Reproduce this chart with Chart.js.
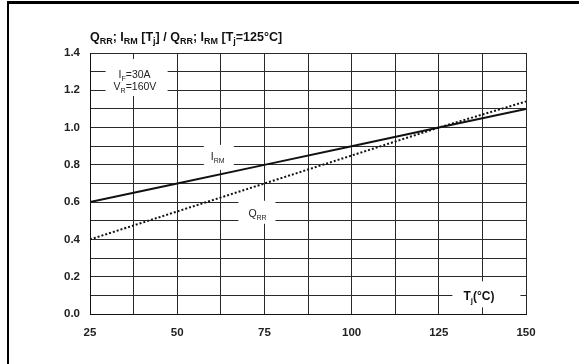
<!DOCTYPE html>
<html>
<head>
<meta charset="utf-8">
<script src="https://cdn.jsdelivr.net/npm/chart.js@4.4.0/dist/chart.umd.min.js"></script>
<style>
    html, body { margin: 0; padding: 0; background: #fff; }
    #wrap { position: relative; width: 579px; height: 364px; }
    #frame { position: absolute; left: 7px; top: 1px; right: 0; bottom: 0;
             border-left: 2px solid #000; border-top: 3px solid #000; pointer-events: none; }
</style>
</head>
<body>
<div id="wrap">
    <canvas id="chart" width="579" height="364"></canvas>
    <div id="frame"></div>
</div>
<script>
const tempC = [25, 50, 75, 100, 125, 150];
const irmRatio = [0.6, 0.7, 0.8, 0.9, 1.0, 1.1];
const qrrRatio = [0.4, 0.55, 0.7, 0.85, 1.0, 1.14];

const FONT = '"Liberation Sans", Arial, sans-serif';
const GRID = '#2a2a2a';

function points(ys) {
    return tempC.map((t, i) => ({ x: t, y: ys[i] }));
}

// draws text with subscript parts: [[text, isSub], ...]
function drawRich(ctx, parts, x, y, size, weight, color) {
    ctx.fillStyle = color;
    ctx.textBaseline = 'alphabetic';
    ctx.textAlign = 'left';
    parts.forEach(([txt, sub]) => {
        const s = sub ? Math.round(size * 0.7) : size;
        ctx.font = `${weight} ${s}px ${FONT}`;
        ctx.fillText(txt, x, sub ? y + 3 : y);
        x += ctx.measureText(txt).width;
    });
}

function clearBox(ctx, x0, y0, x1, y1) {
    ctx.fillStyle = '#fff';
    ctx.fillRect(x0, y0, x1 - x0, y1 - y0);
}

const labelsPlugin = {
    id: 'labels',
    afterDatasetsDraw(chart) {
        const ctx = chart.ctx;
        const xs = chart.scales.x, ys = chart.scales.y;
        ctx.save();

        // title
        drawRich(ctx, [['Q', 0], ['RR', 1], ['; I', 0], ['RM', 1], [' [T', 0], ['j', 1],
            ['] / Q', 0], ['RR', 1], ['; I', 0], ['RM', 1], [' [T', 0], ['j', 1], ['=125°C]', 0]],
            90, 41, 12.5, 'bold', '#111');

        // conditions box
        let px = xs.getPixelForValue(37.5), py = ys.getPixelForValue(1.25);
        clearBox(ctx, px - 28, py - 22, px + 34, py + 15);
        drawRich(ctx, [['I', 0], ['F', 1], ['=30A', 0]], px - 15, py - 3, 10.5, 'normal', '#222');
        drawRich(ctx, [['V', 0], ['R', 1], ['=160V', 0]], px - 20, py + 9, 10.5, 'normal', '#222');

        // I_RM label
        px = xs.getPixelForValue(62.5); py = ys.getPixelForValue(0.8);
        clearBox(ctx, px - 17, py - 20, px + 13, py + 5);
        drawRich(ctx, [['I', 0], ['RM', 1]], px - 10, py - 5, 10.5, 'normal', '#222');

        // Q_RR label
        px = xs.getPixelForValue(75); py = ys.getPixelForValue(0.5);
        clearBox(ctx, px - 26, py - 20, px + 11, py + 3);
        drawRich(ctx, [['Q', 0], ['RR', 1]], px - 16, py - 4, 10.5, 'normal', '#222');

        // axis title
        px = xs.getPixelForValue(137.5); py = ys.getPixelForValue(0.1);
        clearBox(ctx, px - 30, py - 14, px + 38, py + 12);
        drawRich(ctx, [['T', 0], ['j', 1], ['(°C)', 0]], px - 19, py + 5, 12, 'bold', '#111');

        ctx.restore();
    }
};

new Chart(document.getElementById('chart'), {
    type: 'line',
    data: {
        datasets: [
            {
                label: 'IRM',
                data: points(irmRatio),
                borderColor: '#111',
                borderWidth: 2,
                pointRadius: 0,
                tension: 0
            },
            {
                label: 'QRR',
                data: points(qrrRatio),
                borderColor: '#111',
                borderWidth: 2,
                borderDash: [2, 2],
                pointRadius: 0,
                tension: 0
            }
        ]
    },
    options: {
        responsive: false,
        animation: false,
        layout: { padding: { left: 0, top: 53, right: 53, bottom: 0 } },
        plugins: { legend: { display: false }, tooltip: { enabled: false } },
        scales: {
            x: {
                type: 'linear',
                min: 25,
                max: 150,
                afterFit: s => { s.height = 50; },
                grid: { color: GRID, lineWidth: 1, drawTicks: false },
                border: { color: '#111', width: 1 },
                ticks: {
                    stepSize: 12.5,
                    padding: 12,
                    color: '#222',
                    font: { family: FONT, size: 11.5, weight: 'bold' },
                    callback: v => (v % 25 === 0 ? String(v) : '')
                }
            },
            y: {
                min: 0,
                max: 1.4,
                afterFit: s => { s.width = 90; },
                grid: { color: GRID, lineWidth: 1, drawTicks: false },
                border: { color: '#111', width: 1 },
                ticks: {
                    stepSize: 0.1,
                    padding: 10,
                    color: '#222',
                    font: { family: FONT, size: 11.5, weight: 'bold' },
                    callback: v => (Math.round(v * 10) % 2 === 0 ? v.toFixed(1) : '')
                }
            }
        }
    },
    plugins: [labelsPlugin]
});
</script>
</body>
</html>
